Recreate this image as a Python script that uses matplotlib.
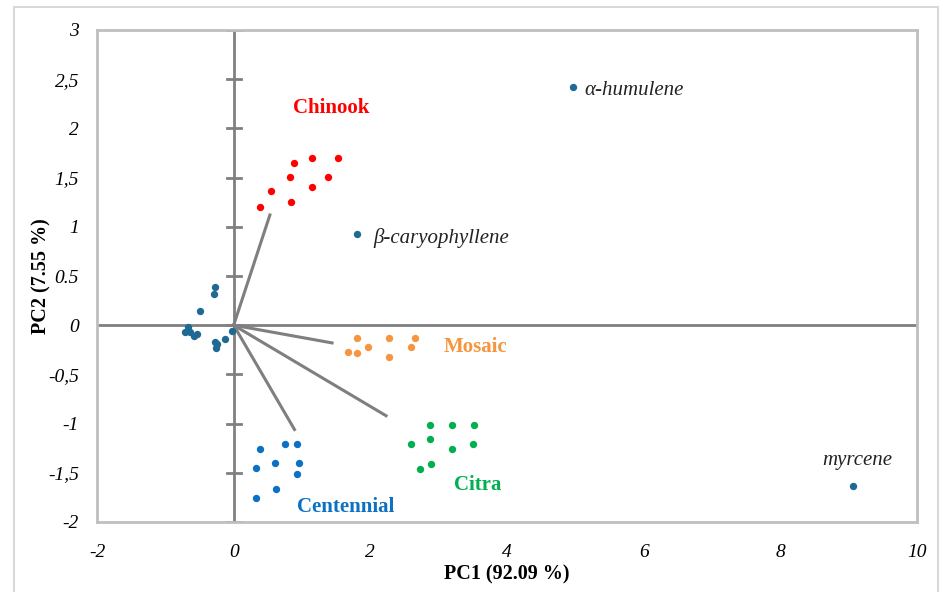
import matplotlib

matplotlib.use("Agg")
import matplotlib.pyplot as plt
from matplotlib.patches import Rectangle

# scores
chinook_x = [0.39, 0.54, 0.84, 0.82, 0.89, 1.14, 1.14, 1.38, 1.53]
chinook_y = [1.20, 1.36, 1.25, 1.51, 1.65, 1.70, 1.40, 1.51, 1.70]
mosaic_x = [1.81, 2.27, 2.66, 1.67, 1.81, 1.96, 2.59, 2.27]
mosaic_y = [-0.125, -0.125, -0.125, -0.27, -0.28, -0.22, -0.22, -0.32]
citra_x = [2.87, 3.19, 3.51, 2.59, 2.87, 3.19, 3.50, 2.73, 2.89]
citra_y = [-1.01, -1.01, -1.01, -1.21, -1.16, -1.26, -1.21, -1.46, -1.41]
centennial_x = [0.39, 0.75, 0.92, 0.32, 0.61, 0.96, 0.92, 0.62, 0.32]
centennial_y = [-1.26, -1.21, -1.21, -1.45, -1.40, -1.40, -1.51, -1.66, -1.76]

# compound loadings
other_x = [-0.27, -0.29, -0.50, -0.67, -0.71, -0.64, -0.58, -0.53,
           -0.27, -0.24, -0.26, -0.13, -0.02]
other_y = [0.39, 0.32, 0.14, -0.02, -0.07, -0.07, -0.11, -0.09,
           -0.17, -0.19, -0.23, -0.14, -0.06]
named = ["α-humulene", "β-caryophyllene", "myrcene"]
named_x = [4.97, 1.80, 9.07]
named_y = [2.42, 0.93, -1.63]

# lines from origin towards group centres
vec_names = ["Chinook", "Mosaic", "Citra", "Centennial"]
vec_x = [0.53, 1.44, 2.23, 0.89]
vec_y = [1.12, -0.18, -0.92, -1.06]

yticks = [-2, -1.5, -1, -0.5, 0, 0.5, 1, 1.5, 2, 2.5, 3]
ytick_labels = ["-2", "-1,5", "-1", "-0,5", "0", "0.5", "1", "1,5", "2", "2,5", "3"]
xticks = [-2, 0, 2, 4, 6, 8, 10]

plt.rcParams["font.family"] = ["Liberation Serif", "DejaVu Serif"]

fig = plt.figure(figsize=(9.44, 5.92), dpi=100)
fig.patches.append(Rectangle((14 / 944, -0.05), 924 / 944, 1 - 7 / 592 + 0.05,
                             transform=fig.transFigure, fill=False,
                             edgecolor="#d9d9d9", linewidth=1.5))
ax = fig.add_axes([97 / 944, 1 - 522 / 592, 820 / 944, 492 / 592])
ax.set_xlim(-2, 10)
ax.set_ylim(-2, 3)

axis_grey = "#808080"
ax.axhline(0, color=axis_grey, linewidth=2, zorder=1)
ax.axvline(0, color=axis_grey, linewidth=2, zorder=1)
for t in yticks:
    ax.plot([-0.1, 0.1], [t, t], color=axis_grey, linewidth=2, zorder=1)

for vx, vy in zip(vec_x, vec_y):
    ax.plot([0, vx], [0, vy], color="#7f7f7f", linewidth=2.2, zorder=2)

ax.scatter(other_x, other_y, s=28, color="#1f6a94", zorder=3, linewidths=0)
ax.scatter(named_x, named_y, s=28, color="#1f6a94", zorder=3, linewidths=0)
ax.scatter(chinook_x, chinook_y, s=28, color="#ff0000", zorder=3, linewidths=0)
ax.scatter(mosaic_x, mosaic_y, s=28, color="#f7953e", zorder=3, linewidths=0)
ax.scatter(citra_x, citra_y, s=28, color="#00b050", zorder=3, linewidths=0)
ax.scatter(centennial_x, centennial_y, s=28, color="#0c70c4", zorder=3, linewidths=0)

group_style = dict(fontsize=15, fontweight="bold", ha="center", va="center")
ax.text(1.42, 2.21, "Chinook", color="#ff0000", **group_style)
ax.text(3.54, -0.22, "Mosaic", color="#f7953e", **group_style)
ax.text(3.57, -1.62, "Citra", color="#00b050", **group_style)
ax.text(1.64, -1.85, "Centennial", color="#0c70c4", **group_style)

name_style = dict(fontsize=15, style="italic", va="center", color="#222222")
ax.text(5.13, 2.39, named[0], **name_style)
ax.text(2.04, 0.89, named[1], **name_style)
ax.text(9.13, -1.38, named[2], ha="center", **name_style)

ax.set_xticks(xticks)
ax.set_xticklabels([str(t) for t in xticks])
ax.set_yticks(yticks)
ax.set_yticklabels(ytick_labels)
ax.tick_params(length=0, labelsize=14, pad=13)
ax.tick_params(axis="x", pad=16)
for lab in ax.get_xticklabels() + ax.get_yticklabels():
    lab.set_style("italic")

for sp in ax.spines.values():
    sp.set_color("#bfbfbf")
    sp.set_linewidth(2)

ax.set_xlabel("PC1 (92.09 %)", fontsize=14.5, fontweight="bold")
ax.set_ylabel("PC2 (7.55 %)", fontsize=14.5, fontweight="bold")
ax.xaxis.set_label_coords(0.5, -0.087)
ax.yaxis.set_label_coords(-0.056, 0.5)

fig.savefig("out.png", dpi=100)
